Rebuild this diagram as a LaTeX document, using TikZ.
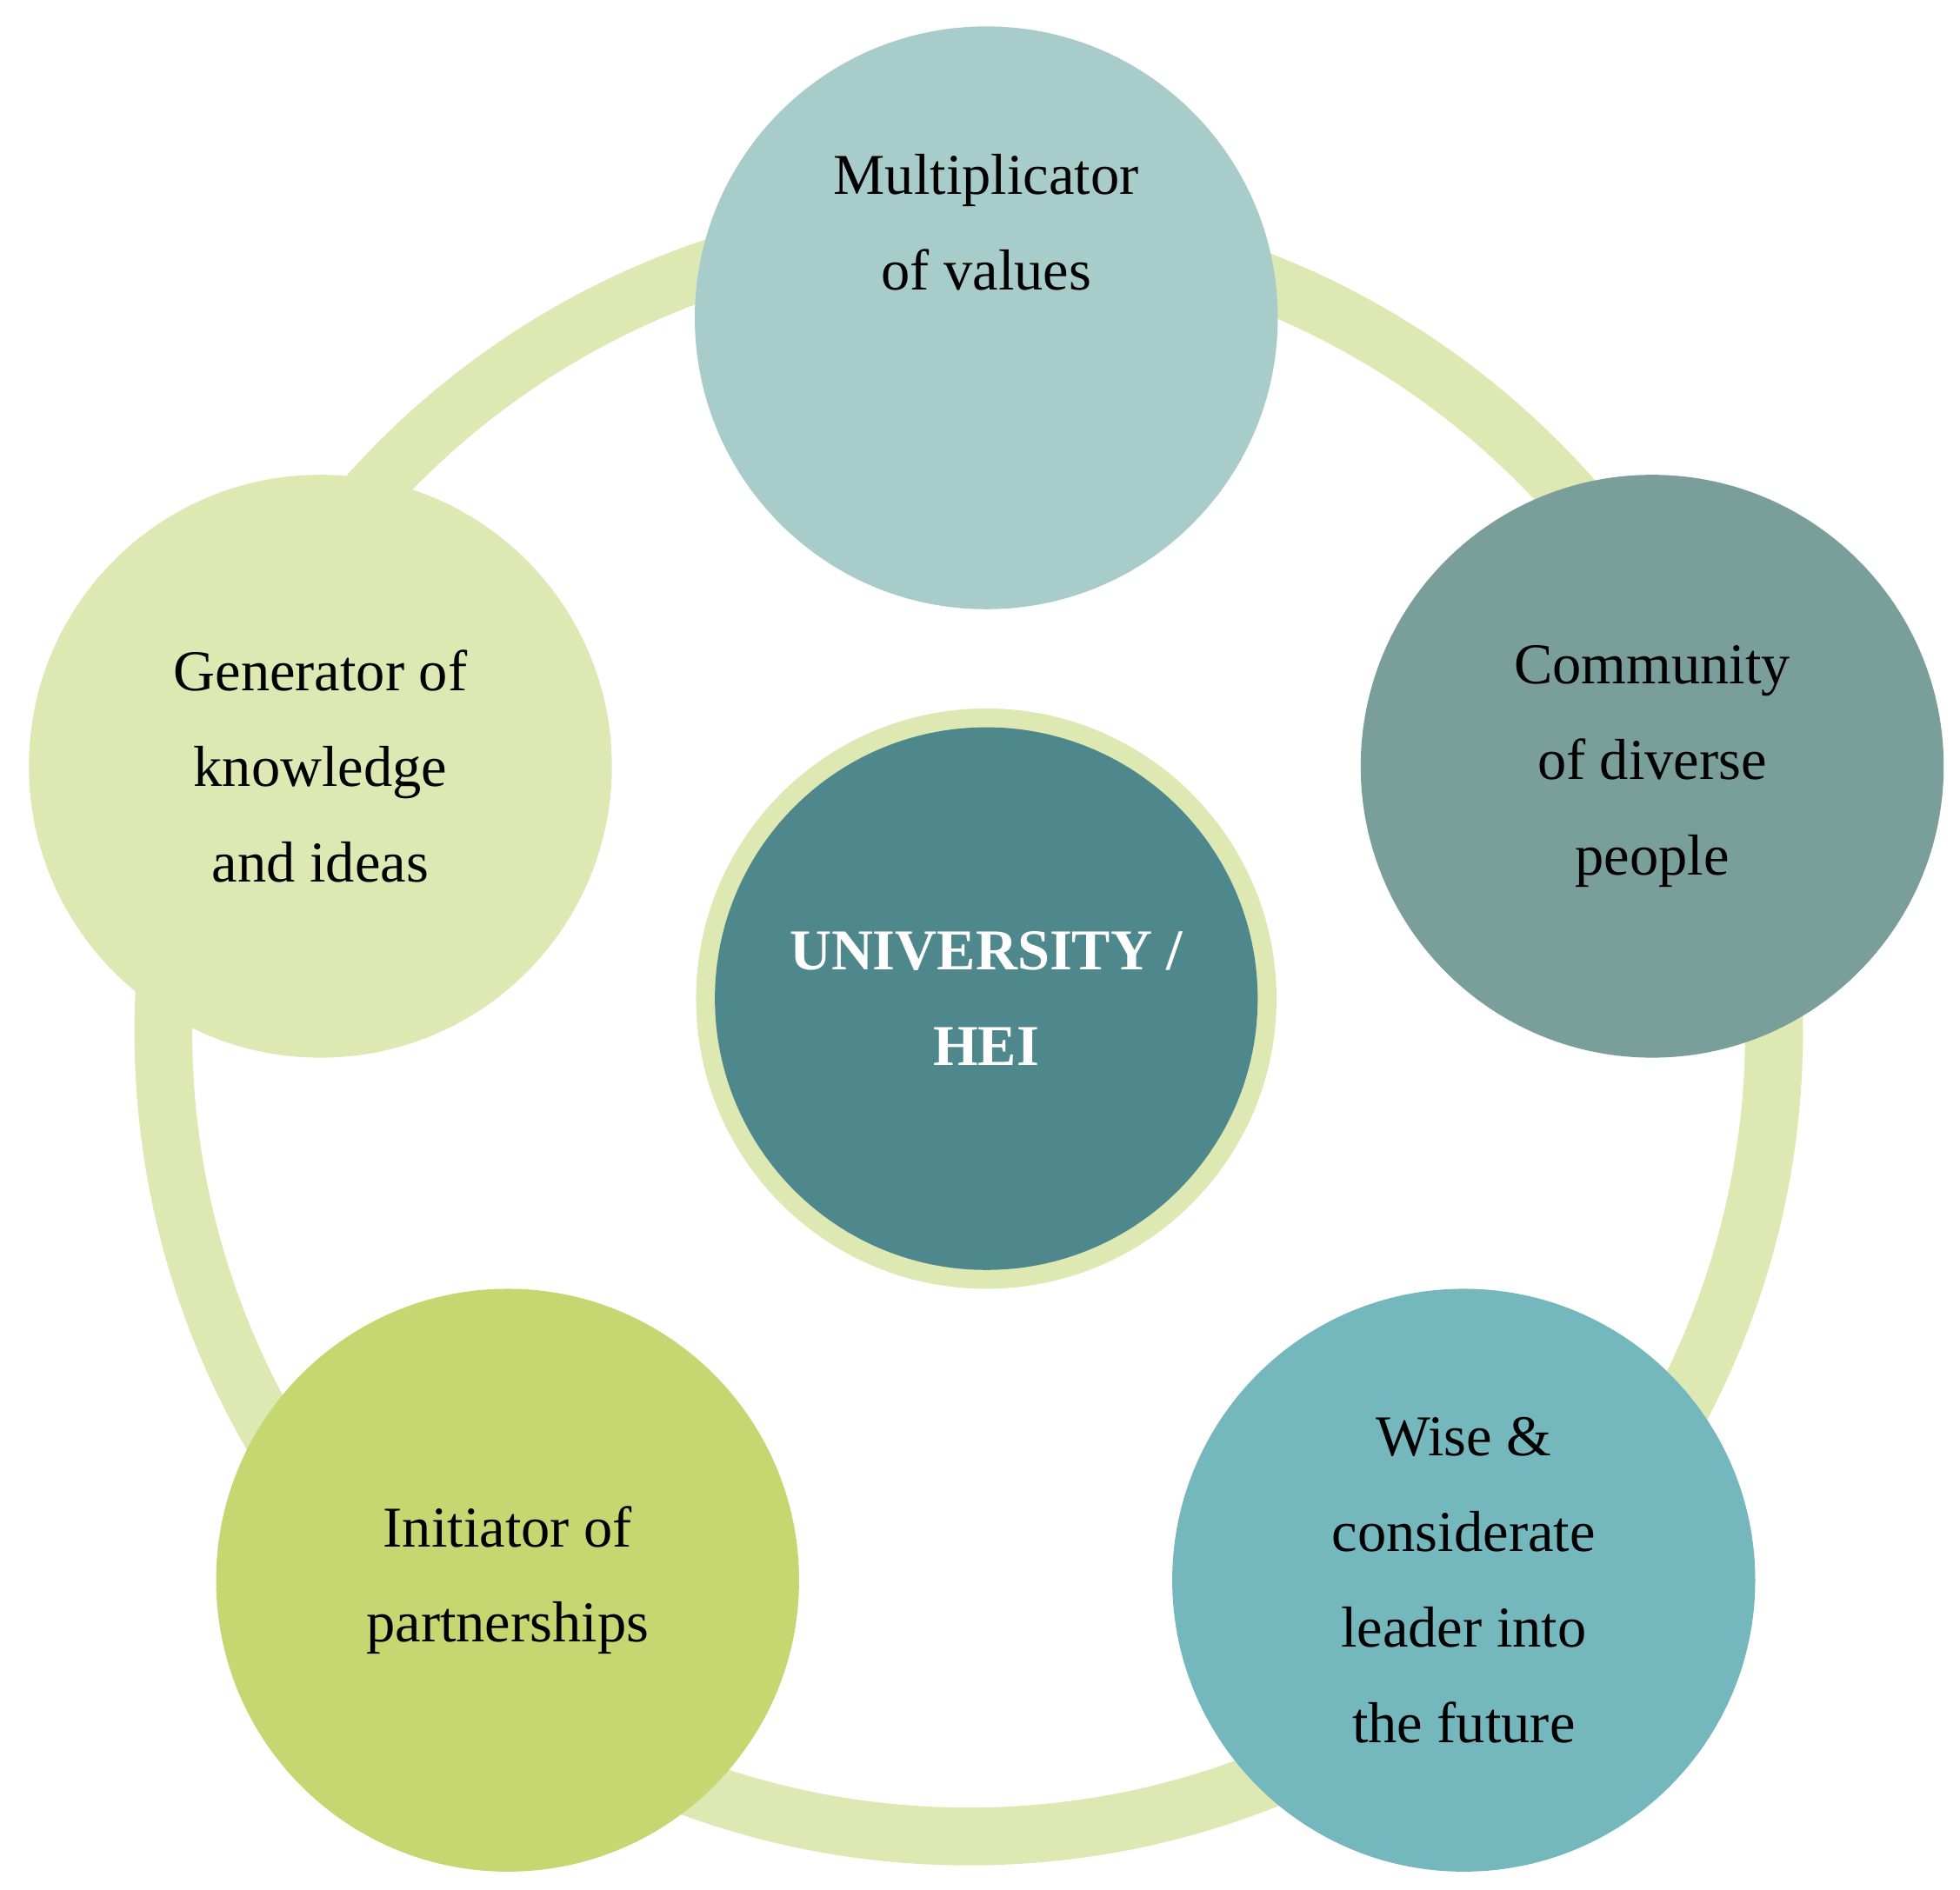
\documentclass[tikz,border=0pt]{standalone}
\usepackage{fontspec}
\setmainfont{Liberation Serif}
\definecolor{ringc}{HTML}{DDE8B3}
\definecolor{ctop}{HTML}{A8CCC9}
\definecolor{cright}{HTML}{7A9E9A}
\definecolor{cbr}{HTML}{74B7BD}
\definecolor{cbl}{HTML}{C6D671}
\definecolor{cleft}{HTML}{DDE8B3}
\definecolor{ccenter}{HTML}{4E888C}
\tikzset{
 bub/.style={circle,minimum size=464pt,inner sep=0pt,align=center,font=\fontsize{46}{76}\selectfont,text=black},
}
\begin{document}
\begin{tikzpicture}[x=1pt,y=-1pt]
\useasboundingbox (0,0) rectangle (1560,1504);
\draw[ringc,line width=46pt] (771,821) circle (641);
\node[circle,fill=ringc,minimum size=462pt] (cring) at (785,795) {};
\node[bub,fill=ccenter,minimum size=432pt,text=white,font=\fontsize{46}{76}\selectfont\bfseries] (c) at (785,795) {UNIVERSITY /\\HEI};
\node[bub,fill=ctop] (top) at (785,253) {Multiplicator\\of values\\[76pt]};
\node[bub,fill=cright] (r) at (1315,610) {Community\\of diverse\\people};
\node[bub,fill=cbr] (br) at (1165,1258) {Wise \&\\considerate\\leader into\\the future};
\node[bub,fill=cbl] (bl) at (404,1258) {Initiator of\\partnerships};
\node[bub,fill=cleft] (l) at (255,610) {Generator of\\knowledge\\and ideas};
\end{tikzpicture}
\end{document}
